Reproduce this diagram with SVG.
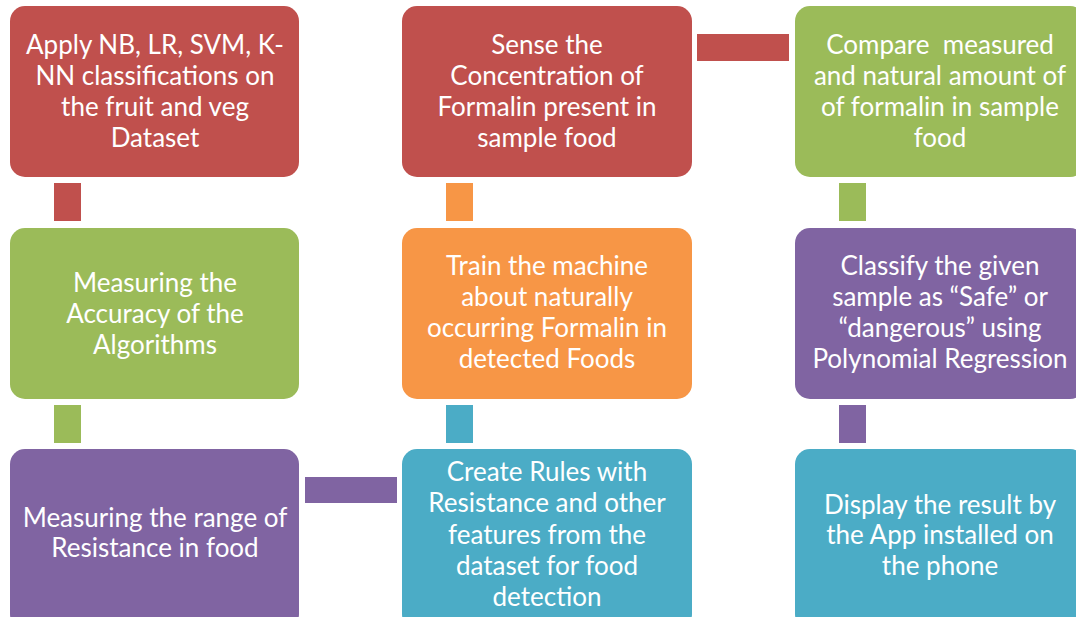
<svg xmlns="http://www.w3.org/2000/svg" width="1076" height="617" viewBox="0 0 1076 617">
<style>
.box{stroke:none}
.red{fill:#C0504D}.green{fill:#9BBB59}.purple{fill:#8064A2}.orange{fill:#F79646}.teal{fill:#4BACC6}
text{font-family:Lato,"Open Sans","Liberation Sans",sans-serif;font-size:26px;fill:#FFFFFF;text-anchor:middle}
</style>
<rect width="1076" height="617" fill="#FFFFFF"/>
<g id="connectors">
<rect class="red" x="54" y="183" width="27" height="38"/>
<rect class="green" x="54" y="405" width="27" height="38"/>
<rect class="orange" x="446" y="183" width="27" height="38"/>
<rect class="teal" x="446" y="405" width="27" height="38"/>
<rect class="green" x="839" y="183" width="27" height="38"/>
<rect class="purple" x="839" y="405" width="27" height="38"/>
<rect class="red" x="697" y="34" width="92" height="27"/>
<rect class="purple" x="305" y="477" width="92" height="26"/>
</g>
<g id="n1">
<rect class="box red" x="10" y="6" width="289" height="171" rx="15"/>
<text x="155" y="54">Apply NB, LR, SVM, K-</text>
<text x="155" y="85">NN classifications on</text>
<text x="155" y="116">the fruit and veg</text>
<text x="155" y="147">Dataset</text>
</g>
<g id="n2">
<rect class="box red" x="402" y="6" width="290" height="171" rx="15"/>
<text x="547" y="54">Sense the</text>
<text x="547" y="85">Concentration of</text>
<text x="547" y="116">Formalin present in</text>
<text x="547" y="147">sample food</text>
</g>
<g id="n3">
<rect class="box green" x="795" y="6" width="290" height="171" rx="15"/>
<text x="940" y="54" xml:space="preserve">Compare  measured</text>
<text x="940" y="85">and natural amount of</text>
<text x="940" y="116">of formalin in sample</text>
<text x="940" y="147">food</text>
</g>
<g id="n4">
<rect class="box green" x="10" y="228" width="289" height="171" rx="15"/>
<text x="155" y="292">Measuring the</text>
<text x="155" y="323">Accuracy of the</text>
<text x="155" y="354">Algorithms</text>
</g>
<g id="n5">
<rect class="box orange" x="402" y="228" width="290" height="171" rx="15"/>
<text x="547" y="275">Train the machine</text>
<text x="547" y="306">about naturally</text>
<text x="547" y="337">occurring Formalin in</text>
<text x="547" y="368">detected Foods</text>
</g>
<g id="n6">
<rect class="box purple" x="795" y="228" width="290" height="171" rx="15"/>
<text x="940" y="275">Classify the given</text>
<text x="940" y="306">sample as “Safe” or</text>
<text x="940" y="337">“dangerous” using</text>
<text x="940" y="368">Polynomial Regression</text>
</g>
<g id="n7">
<rect class="box purple" x="10" y="449" width="289" height="180" rx="15"/>
<text x="155" y="527">Measuring the range of</text>
<text x="155" y="557">Resistance in food</text>
</g>
<g id="n8">
<rect class="box teal" x="402" y="449" width="290" height="180" rx="15"/>
<text x="547" y="481">Create Rules with</text>
<text x="547" y="512">Resistance and other</text>
<text x="547" y="544">features from the</text>
<text x="547" y="575">dataset for food</text>
<text x="547" y="606">detection</text>
</g>
<g id="n9">
<rect class="box teal" x="795" y="449" width="290" height="180" rx="15"/>
<text x="940" y="514">Display the result by</text>
<text x="940" y="544">the App installed on</text>
<text x="940" y="575">the phone</text>
</g>
</svg>
